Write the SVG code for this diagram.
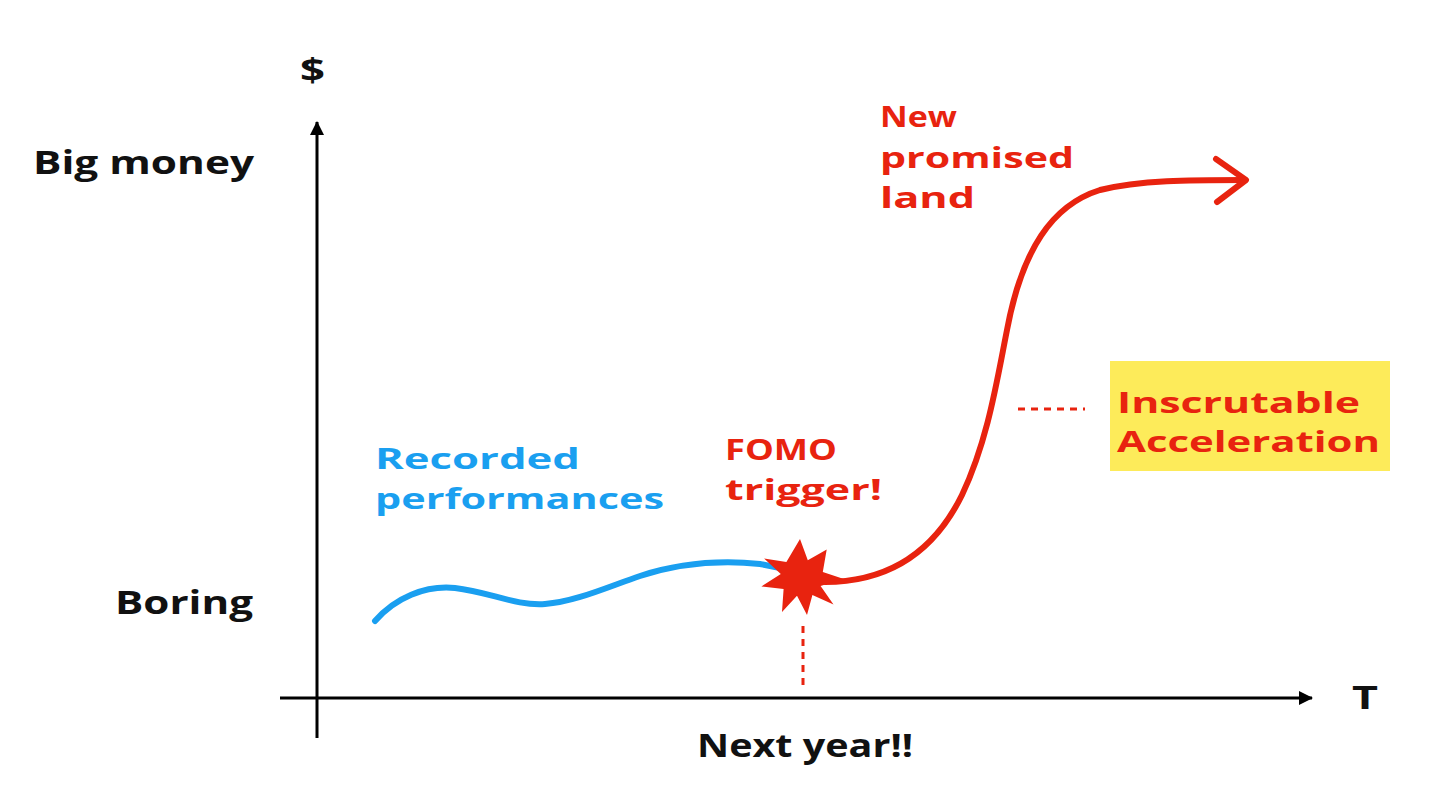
<svg xmlns="http://www.w3.org/2000/svg" width="1442" height="808" viewBox="0 0 1442 808">
<style>
.t{font-family:"Open Sans","Liberation Sans",sans-serif;font-weight:700;font-size:32px}
.m{font-size:28px}
.k{fill:#111}
.b{fill:#1a9ff0}
.r{fill:#e8230f}
.axis{stroke:#000;stroke-width:3;fill:none}
.dash{stroke:#e8230f;stroke-width:3;stroke-dasharray:7 6;fill:none}
</style>
<defs>
<marker id="ah" viewBox="0 0 14 14" refX="13" refY="7" markerWidth="14" markerHeight="14" markerUnits="userSpaceOnUse" orient="auto">
<path d="M0,0 L14,7 L0,14 Z" fill="#000"/>
</marker>
</defs>
<rect width="1442" height="808" fill="#fff"/>
<g id="axes">
<line class="axis" x1="317" y1="738" x2="317" y2="122" marker-end="url(#ah)"/>
<line class="axis" x1="280" y1="698" x2="1312" y2="698" marker-end="url(#ah)"/>
</g>
<g id="connectors">
<path d="M375,621 C395,598 425,585 455,588 C490,592 515,606 545,604 C575,602 610,586 640,576 C680,563 720,560 760,564 L785,569" fill="none" stroke="#1a9ff0" stroke-width="6" stroke-linecap="round"/>
<path d="M825,582 C880,582 930,560 962,495 C988,440 997,380 1007,330 C1022,250 1052,205 1100,190 C1140,180 1190,180 1245,180" fill="none" stroke="#e8230f" stroke-width="6" stroke-linecap="round"/>
<path d="M1216,159 L1246,180 L1217,202" fill="none" stroke="#e8230f" stroke-width="6" stroke-linecap="round" stroke-linejoin="round"/>
<line class="dash" x1="803" y1="626" x2="803" y2="686"/>
<line class="dash" x1="1018" y1="409" x2="1085" y2="409"/>
</g>
<g id="star">
<polygon fill="#e8230f" points="800.0,539.0 807.8,560.3 826.7,549.4 822.8,572.1 843.1,578.8 820.6,585.9 833.5,604.6 812.4,595.0 807.0,615.0 797.0,595.7 782.0,611.9 783.6,589.0 761.4,586.4 780.8,574.0 764.1,558.4 786.4,562.0 800.0,539.0"/>
</g>
<g id="labels">
<text class="t k" x="300" y="82" textLength="25" lengthAdjust="spacingAndGlyphs">$</text>
<text class="t k" x="33" y="174" textLength="221" lengthAdjust="spacingAndGlyphs">Big money</text>
<text class="t k" x="115" y="614" textLength="138" lengthAdjust="spacingAndGlyphs">Boring</text>
<text class="t k" x="1352" y="709" textLength="26" lengthAdjust="spacingAndGlyphs">T</text>
<text class="t k" x="697" y="757" textLength="216" lengthAdjust="spacingAndGlyphs">Next year!!</text>
</g>
<g id="recorded">
<text class="t m b" x="375" y="469" textLength="205" lengthAdjust="spacingAndGlyphs">Recorded</text>
<text class="t m b" x="375" y="509" textLength="289" lengthAdjust="spacingAndGlyphs">performances</text>
</g>
<g id="fomo">
<text class="t m r" x="725" y="460" textLength="112" lengthAdjust="spacingAndGlyphs">FOMO</text>
<text class="t m r" x="725" y="500" textLength="157" lengthAdjust="spacingAndGlyphs">trigger!</text>
</g>
<g id="promised">
<text class="t m r" x="880" y="127" textLength="77" lengthAdjust="spacingAndGlyphs">New</text>
<text class="t m r" x="880" y="168" textLength="194" lengthAdjust="spacingAndGlyphs">promised</text>
<text class="t m r" x="880" y="208" textLength="95" lengthAdjust="spacingAndGlyphs">land</text>
</g>
<g id="inscrutable">
<rect x="1110" y="361" width="280" height="110" fill="#fdeb5a"/>
<text class="t m r" x="1117" y="413" textLength="243" lengthAdjust="spacingAndGlyphs">Inscrutable</text>
<text class="t m r" x="1117" y="452" textLength="263" lengthAdjust="spacingAndGlyphs">Acceleration</text>
</g>
</svg>
